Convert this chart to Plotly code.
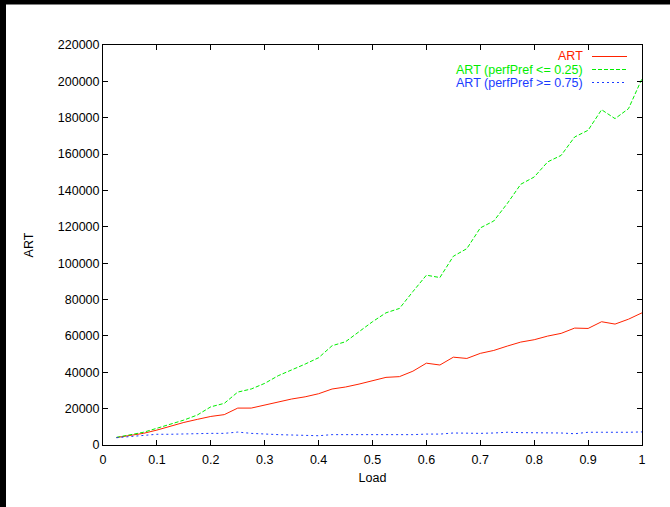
import plotly.graph_objects as go

load = [0.025, 0.05, 0.075, 0.1, 0.125, 0.15, 0.175, 0.2, 0.225, 0.25,
        0.275, 0.3, 0.325, 0.35, 0.375, 0.4, 0.425, 0.45, 0.475, 0.5,
        0.525, 0.55, 0.575, 0.6, 0.625, 0.65, 0.675, 0.7, 0.725, 0.75,
        0.775, 0.8, 0.825, 0.85, 0.875, 0.9, 0.925, 0.95, 0.975, 1.0]

art = [4100, 5100, 6400, 8200, 10400, 12400, 14100, 15700, 16700, 20300,
       20300, 22000, 23800, 25300, 26500, 28200, 30800, 31900, 33500, 35300,
       37200, 37600, 40600, 45000, 44000, 48300, 47600, 50400, 52000, 54400,
       56600, 57900, 59900, 61400, 64300, 64100, 67800, 66500, 69200, 72700]

art_low = [4200, 5500, 7000, 9200, 11400, 13700, 16500, 21000, 22900, 29100,
           30800, 33900, 38100, 41200, 44500, 48000, 54600, 56800, 62300, 67800,
           72700, 75100, 84400, 93400, 92100, 103800, 108000, 119400, 123200, 132800,
           143400, 147400, 155700, 159300, 169400, 173100, 184400, 179500, 185000, 201500]

art_high = [4000, 4600, 5100, 5900, 5900, 6100, 6600, 6400, 6400, 7100,
            6400, 5900, 5700, 5500, 5300, 5100, 5700, 5700, 5500, 5300,
            5500, 5700, 5700, 6000, 6000, 6600, 6400, 6400, 6600, 7000,
            6800, 6800, 6600, 6600, 6200, 7000, 7000, 6800, 7000, 7200]

names = ["ART", "ART (perfPref <= 0.25)", "ART (perfPref >= 0.75)"]
colors = ["#ff2200", "#00ee00", "#1a3cff"]
dashes = ["solid", "4px,2px", "2px,3px"]
series = [art, art_low, art_high]

x_ticks = [0, 0.1, 0.2, 0.3, 0.4, 0.5, 0.6, 0.7, 0.8, 0.9, 1]
x_labels = ["0", "0.1", "0.2", "0.3", "0.4", "0.5", "0.6", "0.7", "0.8", "0.9", "1"]
y_ticks = list(range(0, 220001, 20000))

fig = go.Figure()
for n, c, d, s in zip(names, colors, dashes, series):
    fig.add_trace(go.Scatter(x=load, y=s, mode="lines", name=n,
                             line=dict(color=c, width=1, dash=d),
                             showlegend=False))

font = "Liberation Sans, Arial, Helvetica, sans-serif"
fs = 12.5
axis_common = dict(showgrid=False, zeroline=False, showline=True, linecolor="black",
                   linewidth=1, mirror="allticks", ticks="inside", ticklen=5,
                   tickcolor="black", tickwidth=1,
                   tickfont=dict(family=font, size=fs, color="black"))

fig.update_layout(
    width=670, height=507,
    margin=dict(l=103, r=28, t=45, b=62),
    paper_bgcolor="white", plot_bgcolor="white",
    xaxis=dict(range=[0, 1], tickvals=x_ticks, ticktext=x_labels, ticklabelstandoff=3,
               title=dict(text="Load", font=dict(family=font, size=fs, color="black"), standoff=7),
               **axis_common),
    yaxis=dict(range=[0, 220000], tickvals=y_ticks, tickformat="d",
               title=dict(text="ART", font=dict(family=font, size=fs, color="black"), standoff=21),
               **axis_common),
)

# legend (gnuplot style: right-aligned text, sample line on the right)
text_y = [55.5, 69.5, 83.5]
line_y = [56.5, 69.5, 82.5]
for n, c, d, ty, ly in zip(names, colors, dashes, text_y, line_y):
    fig.add_annotation(x=(584 - 103) / 539, y=(445 - ty) / 400, xref="paper", yref="paper",
                       text=n, showarrow=False, xanchor="right", yanchor="middle",
                       borderpad=0,
                       font=dict(family=font, size=fs, color=c))
    fig.add_shape(type="line", xref="paper", yref="paper",
                  x0=(592 - 103) / 539, x1=(627 - 103) / 539,
                  y0=(445 - ly) / 400, y1=(445 - ly) / 400,
                  line=dict(color=c, width=1.2, dash=d))

# black border strips at top and left of the picture
fig.add_shape(type="rect", xref="paper", yref="paper",
              x0=-103 / 539, x1=(6 - 103) / 539, y0=-62 / 400, y1=445 / 400,
              fillcolor="black", line=dict(width=0), layer="above")
fig.add_shape(type="rect", xref="paper", yref="paper",
              x0=-103 / 539, x1=567 / 539, y0=(445 - 4.5) / 400, y1=445 / 400,
              fillcolor="black", line=dict(width=0), layer="above")

fig.write_html("out.html")
